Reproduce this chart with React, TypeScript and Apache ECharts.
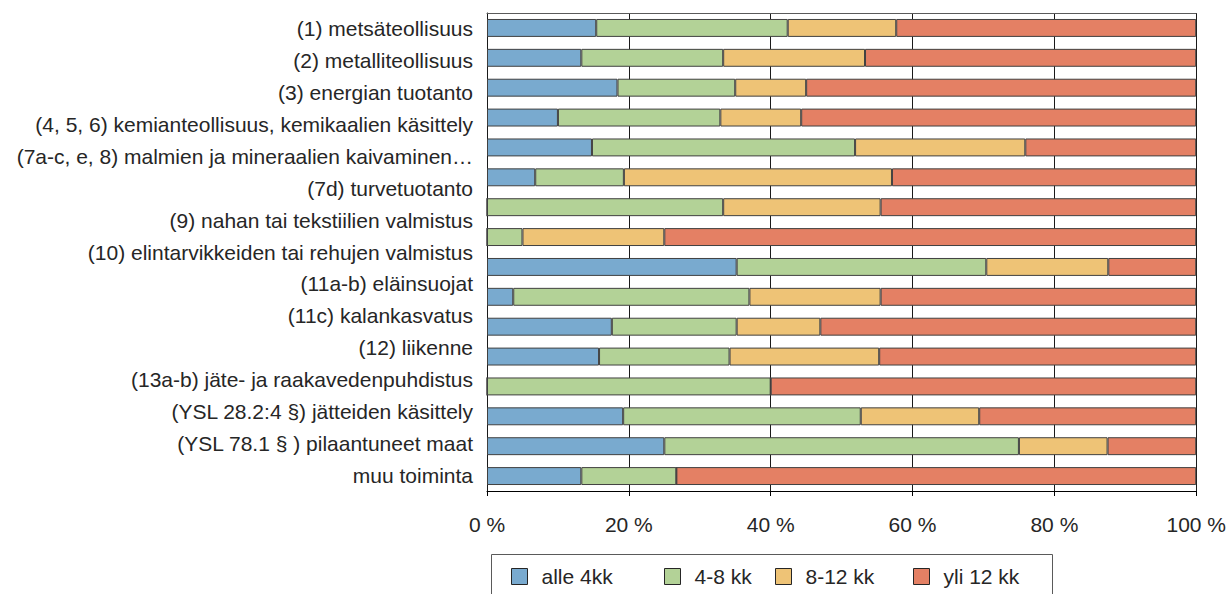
import React, { useEffect, useRef } from "react";
import * as echarts from "echarts";

// Row labels as printed on the left (15 labels spread over the plot height)
const rowLabels: string[] = [
  "(1) metsäteollisuus",
  "(2) metalliteollisuus",
  "(3) energian tuotanto",
  "(4, 5, 6) kemianteollisuus, kemikaalien käsittely",
  "(7a-c, e, 8) malmien ja mineraalien kaivaminen…",
  "(7d) turvetuotanto",
  "(9) nahan tai tekstiilien valmistus",
  "(10) elintarvikkeiden tai rehujen valmistus",
  "(11a-b) eläinsuojat",
  "(11c) kalankasvatus",
  "(12) liikenne",
  "(13a-b) jäte- ja raakavedenpuhdistus",
  "(YSL 28.2:4 §) jätteiden käsittely",
  "(YSL 78.1 § ) pilaantuneet maat",
  "muu toiminta",
];

// Bar rows (16 bars drawn in the chart)
const barRows: string[] = [
  "r1", "r2", "r3", "r4", "r5", "r6", "r7", "r8",
  "r9", "r10", "r11", "r12", "r13", "r14", "r15", "r16",
];

const seriesNames: string[] = ["alle 4kk", "4-8 kk", "8-12 kk", "yli 12 kk"];

const alle4: number[] = [15.4, 13.3, 18.4, 10.0, 14.8, 6.8, 0, 0, 35.2, 3.7, 17.6, 15.8, 0, 19.2, 25.0, 13.3];
const v4to8: number[] = [27.0, 20.0, 16.6, 22.9, 37.1, 12.5, 33.3, 5.0, 35.2, 33.3, 17.6, 18.4, 40.0, 33.5, 50.0, 13.4];
const v8to12: number[] = [15.3, 20.0, 10.0, 11.4, 24.0, 37.8, 22.2, 20.0, 17.2, 18.5, 11.8, 21.1, 0, 16.7, 12.5, 0];
const yli12: number[] = [42.3, 46.7, 55.0, 55.7, 24.1, 42.9, 44.5, 75.0, 12.4, 44.5, 53.0, 44.7, 60.0, 30.6, 12.5, 73.3];

const xTicks: number[] = [0, 20, 40, 60, 80, 100];

const colors = ["#79AACF", "#B3D297", "#EEC376", "#E48064"];
const legendLefts = [511, 664, 775, 913];

const FONT = "'Liberation Sans', Arial, sans-serif";

export default function App() {
  const ref = useRef<HTMLDivElement>(null);

  useEffect(() => {
    if (!ref.current) return;
    const chart = echarts.init(ref.current, undefined, { renderer: "svg" });
    const seriesData = [alle4, v4to8, v8to12, yli12];

    const option: any = {
      animation: false,
      backgroundColor: "#ffffff",
      textStyle: { fontFamily: FONT },
      grid: { left: 487, top: 13, width: 710, height: 478, containLabel: false },
      xAxis: [
        {
          type: "value",
          min: xTicks[0],
          max: xTicks[xTicks.length - 1],
          interval: 20,
          position: "bottom",
          axisLine: { show: true, lineStyle: { color: "#000000", width: 1 } },
          axisTick: { show: true, length: 5, inside: false, lineStyle: { color: "#000000" } },
          axisLabel: {
            formatter: "{value} %",
            fontSize: 21,
            color: "#262626",
            fontFamily: FONT,
            margin: 23,
          },
          splitLine: { show: true, lineStyle: { color: "#1a1a1a", width: 1 } },
        },
        {
          type: "value",
          min: 0,
          max: 100,
          interval: 20,
          position: "top",
          axisLine: { show: true, lineStyle: { color: "#5a5a5a", width: 1 } },
          axisTick: { show: false },
          axisLabel: { show: false },
          splitLine: { show: false },
        },
      ],
      yAxis: [
        {
          type: "category",
          data: barRows,
          inverse: true,
          axisLine: { show: true, onZero: false, lineStyle: { color: "#1a1a1a" } },
          axisTick: { show: false },
          axisLabel: { show: false },
          splitLine: { show: false },
        },
        {
          type: "category",
          data: rowLabels,
          inverse: true,
          position: "left",
          offset: 0,
          axisLine: { show: false },
          axisTick: { show: false },
          axisLabel: {
            show: true,
            fontSize: 21,
            color: "#262626",
            fontFamily: FONT,
            margin: 14,
          },
          splitLine: { show: false },
        },
      ],
      legend: seriesNames.map((name, i) => ({
        data: [name],
        left: legendLefts[i],
        top: 566,
        padding: 0,
        orient: "horizontal",
        icon: "rect",
        itemWidth: 16,
        itemHeight: 16,
        selectedMode: false,
        textStyle: { fontSize: 21, color: "#262626", fontFamily: FONT, padding: [0, 0, 0, 9] },
        itemStyle: { borderColor: "#262626", borderWidth: 1 },
      })),
      graphic: [
        {
          type: "rect",
          shape: { x: 491.5, y: 554.5, width: 561, height: 60 },
          style: { fill: "none", stroke: "#5a5a5a", lineWidth: 1 },
          silent: true,
        },
      ],
      series: seriesNames.map((name, i) => ({
        name,
        type: "bar",
        stack: "total",
        xAxisIndex: 0,
        yAxisIndex: 0,
        barCategoryGap: "40%",
        data: seriesData[i],
        itemStyle: { color: colors[i], borderColor: "#404040", borderWidth: 1 },
        emphasis: { disabled: true },
      })),
    };

    chart.setOption(option);
    return () => chart.dispose();
  }, []);

  return (
    <div
      ref={ref}
      style={{ position: "fixed", left: 0, top: 0, width: 1229, height: 594, background: "#fff" }}
    />
  );
}
